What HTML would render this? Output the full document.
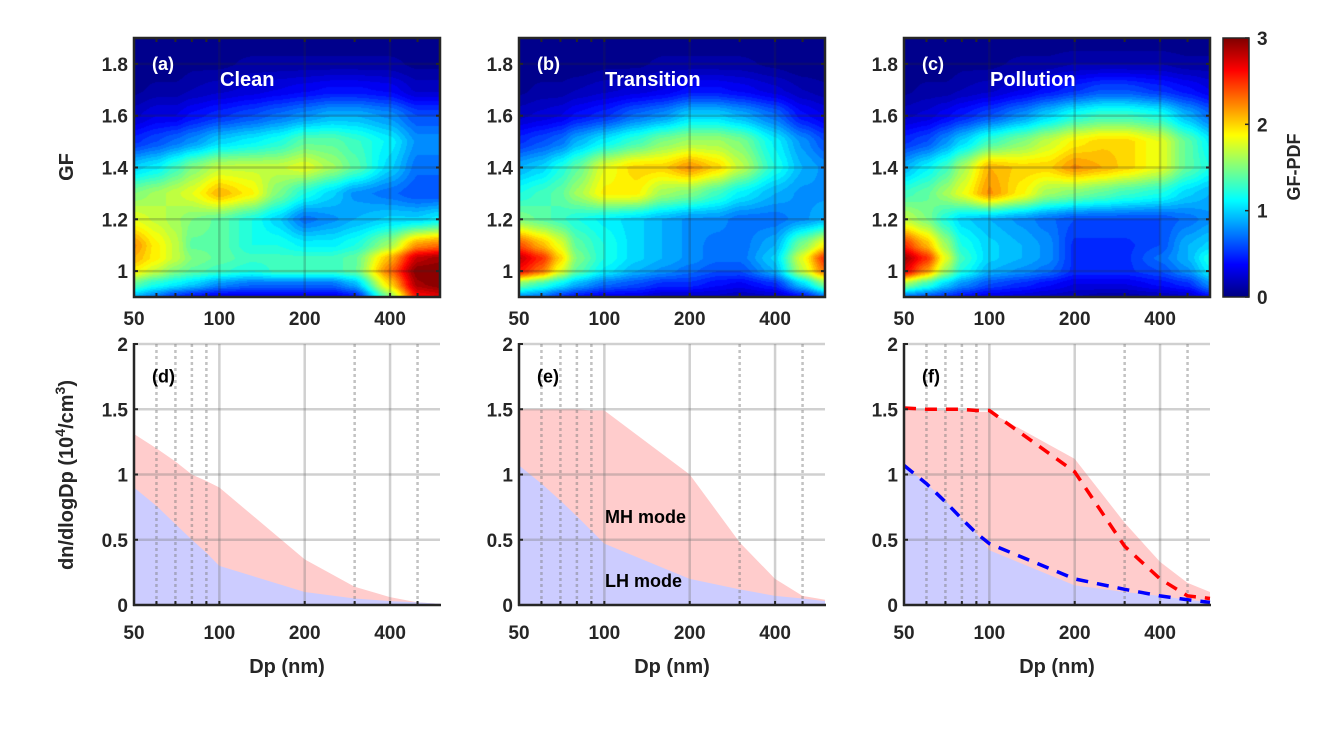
<!DOCTYPE html>
<html><head><meta charset="utf-8">
<style>
html,body{margin:0;padding:0;background:#fff;}
#wrap{position:relative;width:1344px;height:756px;overflow:hidden;font-family:"Liberation Sans",Arial,sans-serif;}
canvas{position:absolute;}
svg{position:absolute;left:0;top:0;}
text{font-family:"Liberation Sans",Arial,sans-serif;font-weight:bold;}
</style></head>
<body>
<div id="wrap">
<canvas id="ca" width="306" height="259" style="left:134px;top:38px"></canvas>
<canvas id="cb" width="306" height="259" style="left:519px;top:38px"></canvas>
<canvas id="cc" width="306" height="259" style="left:904px;top:38px"></canvas>
<canvas id="cbar" width="26" height="259" style="left:1223px;top:38px"></canvas>
<svg id="svg" width="1344" height="756" xmlns="http://www.w3.org/2000/svg"></svg>
</div>
<script>
// ---- data ----
const dpNodes = [50,60,70,80,100,130,160,200,250,300,400,500,600];
const gfNodes = [0.9,0.95,1.0,1.05,1.1,1.2,1.3,1.4,1.5,1.6,1.7,1.8,1.9];
const pdfClean = [
[0.9,0.7,0.5,0.4,0.3,0.3,0.3,0.3,0.3,0.4,1.5,2.6,2.7],
[1.4,1.2,1.1,1.0,0.8,0.7,0.7,0.7,0.7,0.9,2.0,2.9,3.0],
[1.9,1.7,1.5,1.4,1.3,1.2,1.3,1.3,1.3,1.4,2.3,3.0,3.0],
[2.1,1.9,1.7,1.5,1.4,1.3,1.3,1.3,1.3,1.4,2.1,2.8,2.9],
[2.2,1.9,1.7,1.4,1.4,1.2,1.2,1.1,1.1,1.2,1.6,2.2,2.3],
[1.8,1.7,1.6,1.5,1.4,1.2,1.0,0.7,0.8,0.9,1.0,1.0,1.1],
[1.5,1.6,1.7,1.8,2.1,1.9,1.5,1.2,1.0,0.8,0.7,0.6,0.6],
[1.0,1.1,1.3,1.5,1.7,1.7,1.7,1.8,1.6,1.4,1.0,0.7,0.7],
[0.5,0.6,0.7,0.8,1.0,1.1,1.2,1.4,1.4,1.3,1.1,0.8,0.8],
[0.2,0.3,0.3,0.4,0.5,0.6,0.7,0.8,0.9,0.9,0.8,0.6,0.6],
[0.05,0.1,0.1,0.15,0.2,0.25,0.3,0.35,0.4,0.4,0.35,0.2,0.2],
[0,0,0,0.05,0.05,0.1,0.1,0.1,0.1,0.1,0.1,0.05,0.05],
[0,0,0,0,0,0,0,0,0,0,0,0,0]];
const pdfTransition = [
[0.8,0.7,0.5,0.4,0.3,0.3,0.2,0.2,0.2,0.15,0.2,0.4,0.7],
[1.5,1.3,1.1,0.9,0.7,0.6,0.5,0.5,0.4,0.35,0.5,1.0,1.5],
[2.6,2.3,1.8,1.4,1.1,0.9,0.8,0.7,0.6,0.6,0.9,1.7,2.3],
[2.8,2.5,2.0,1.5,1.2,1.0,0.9,0.8,0.7,0.7,1.0,1.8,2.5],
[2.4,2.1,1.8,1.4,1.2,1.0,0.9,0.8,0.7,0.7,0.9,1.5,1.9],
[1.5,1.4,1.3,1.2,1.1,1.0,0.9,0.8,0.8,0.7,0.7,0.8,0.9],
[1.2,1.3,1.4,1.6,1.9,1.9,1.6,1.5,1.3,1.1,0.9,0.8,0.8],
[0.9,1.0,1.2,1.4,1.8,2.0,2.0,2.2,2.0,1.7,1.2,0.9,0.8],
[0.5,0.6,0.7,0.9,1.1,1.3,1.5,1.6,1.6,1.5,1.1,0.8,0.6],
[0.2,0.25,0.3,0.4,0.5,0.7,0.8,1.0,1.0,0.9,0.7,0.4,0.3],
[0.05,0.1,0.1,0.15,0.2,0.25,0.3,0.4,0.4,0.35,0.25,0.15,0.1],
[0,0,0,0,0.05,0.05,0.1,0.1,0.1,0.1,0.05,0,0],
[0,0,0,0,0,0,0,0,0,0,0,0,0]];
const pdfPollution = [
[0.7,0.6,0.5,0.4,0.3,0.25,0.2,0.15,0.1,0.1,0.15,0.2,0.4],
[1.6,1.3,1.0,0.8,0.6,0.5,0.4,0.3,0.3,0.3,0.4,0.5,0.8],
[2.7,2.2,1.6,1.2,0.9,0.8,0.7,0.5,0.5,0.5,0.6,0.8,1.1],
[2.9,2.5,1.8,1.3,1.0,0.9,0.8,0.5,0.5,0.5,0.7,0.9,1.2],
[2.5,2.1,1.6,1.2,1.0,0.9,0.8,0.5,0.5,0.5,0.6,0.9,1.0],
[1.7,1.5,1.2,1.0,0.9,0.8,0.7,0.6,0.6,0.6,0.6,0.7,0.8],
[1.3,1.4,1.6,1.8,2.2,1.9,1.6,1.5,1.4,1.3,1.2,1.0,0.9],
[0.9,1.1,1.3,1.6,2.1,2.0,2.0,2.2,2.1,2.0,1.8,1.4,1.2],
[0.5,0.6,0.8,1.0,1.3,1.5,1.7,1.9,2.0,2.0,1.8,1.4,1.1],
[0.2,0.25,0.35,0.45,0.6,0.8,1.0,1.2,1.3,1.3,1.2,0.9,0.7],
[0.05,0.1,0.1,0.15,0.2,0.3,0.4,0.5,0.6,0.6,0.5,0.4,0.3],
[0,0,0,0.05,0.05,0.1,0.1,0.15,0.15,0.15,0.15,0.1,0.1],
[0,0,0,0,0,0,0,0,0,0,0,0,0]];

const dpDist = [50,60,70,80,90,100,200,300,400,500,600];
const totalClean = [1.31,1.2,1.1,1.0,0.95,0.9,0.35,0.14,0.06,0.02,0.01];
const lhClean    = [0.9,0.76,0.62,0.5,0.4,0.3,0.1,0.05,0.03,0.02,0.01];
const totalTrans = [1.5,1.5,1.5,1.5,1.49,1.49,1.0,0.48,0.2,0.07,0.04];
const lhTrans    = [1.07,0.93,0.8,0.68,0.57,0.47,0.2,0.12,0.07,0.05,0.03];
const totalPoll  = [1.5,1.5,1.49,1.49,1.48,1.48,1.12,0.63,0.33,0.17,0.1];
const lhPoll     = [1.07,0.93,0.8,0.66,0.55,0.42,0.15,0.1,0.07,0.04,0.02];
const mhRefLine  = [1.51,1.5,1.5,1.5,1.49,1.49,1.02,0.45,0.2,0.07,0.05];
const lhRefLine  = [1.07,0.93,0.79,0.66,0.55,0.47,0.2,0.12,0.07,0.04,0.02];

const xTicks = [50,100,200,400];
const xMinor = [60,70,80,90,300,500];
const gfTicks = [1,1.2,1.4,1.6,1.8];
const gfTickLabels = ['1','1.2','1.4','1.6','1.8'];
const nTicks = [0,0.5,1,1.5,2];
const nTickLabels = ['0','0.5','1','1.5','2'];
const cbTicks = [0,1,2,3];

// ---- geometry / scales ----
const panelX = [134,519,904], PW = 306;
const hTop = 38, hBot = 297, bTop = 344, bBot = 605;
const xs = (x0,dp)=> x0 + PW*Math.log(dp/50)/Math.log(12);
const ysGF = gf => hBot - (gf-0.9)/1.0*(hBot-hTop);
const ysN = v => bBot - v/2*(bBot-bTop);

function jet(t){
  t=Math.max(0,Math.min(1,t));
  const c=v=>Math.round(255*Math.max(0,Math.min(1,v)));
  return [c(1.5-Math.abs(4*t-3)), c(1.5-Math.abs(4*t-2)), c(1.5-Math.abs(4*t-1))];
}
function interp(grid,dp,gf){
  let i=0; while(i<dpNodes.length-2 && dp>dpNodes[i+1]) i++;
  let j=0; while(j<gfNodes.length-2 && gf>gfNodes[j+1]) j++;
  let tx=(Math.log(dp)-Math.log(dpNodes[i]))/(Math.log(dpNodes[i+1])-Math.log(dpNodes[i]));
  let ty=(gf-gfNodes[j])/(gfNodes[j+1]-gfNodes[j]);
  tx=Math.max(0,Math.min(1,tx)); ty=Math.max(0,Math.min(1,ty));
  tx=tx*tx*(3-2*tx)*0.5+tx*0.5; ty=ty*ty*(3-2*ty)*0.5+ty*0.5;
  const a=grid[j][i],b=grid[j][i+1],c=grid[j+1][i],d=grid[j+1][i+1];
  return (a*(1-tx)+b*tx)*(1-ty)+(c*(1-tx)+d*tx)*ty;
}
function drawHeat(id,grid){
  const cv=document.getElementById(id),ctx=cv.getContext('2d');
  const img=ctx.createImageData(cv.width,cv.height);
  for(let py=0;py<cv.height;py++){
    const gf=1.9-(py+0.5)/cv.height*1.0;
    for(let px=0;px<cv.width;px++){
      const dp=50*Math.pow(12,(px+0.5)/cv.width);
      let v=interp(grid,dp,gf);
      v=(Math.floor(v/0.075)+0.5)*0.075;
      const col=jet(v/3); const k=(py*cv.width+px)*4;
      img.data[k]=col[0];img.data[k+1]=col[1];img.data[k+2]=col[2];img.data[k+3]=255;
    }
  }
  ctx.putImageData(img,0,0);
}
drawHeat('ca',pdfClean);drawHeat('cb',pdfTransition);drawHeat('cc',pdfPollution);
(function(){const cv=document.getElementById('cbar'),ctx=cv.getContext('2d');
 for(let py=0;py<cv.height;py++){const c=jet(1-(py+0.5)/cv.height);ctx.fillStyle=`rgb(${c[0]},${c[1]},${c[2]})`;ctx.fillRect(0,py,cv.width,1);}})();

// ---- SVG ----
const svg=document.getElementById('svg');const NS='http://www.w3.org/2000/svg';
function el(tag,attrs,parent){const e=document.createElementNS(NS,tag);for(const k in attrs)e.setAttribute(k,attrs[k]);(parent||svg).appendChild(e);return e;}
function txt(s,x,y,size,anchor,fill,extra){const t=el('text',Object.assign({x:x,y:y,'font-size':size,'text-anchor':anchor||'middle',fill:fill||'#262626'},extra||{}));t.textContent=s;return t;}

const titles=['Clean','Transition','Pollution'], lettersTop=['(a)','(b)','(c)'], lettersBot=['(d)','(e)','(f)'];
panelX.forEach((x0,p)=>{
  const g=el('g',{});
  
  
  xTicks.slice(1).forEach(d=>{const l=el('line',{x1:xs(x0,d),x2:xs(x0,d),y1:hTop,y2:hBot,stroke:'rgba(40,40,40,0.22)','stroke-width':2.5},g);});
  gfTicks.forEach(v=>{const l=el('line',{x1:x0,x2:x0+PW,y1:ysGF(v),y2:ysGF(v),stroke:'rgba(40,40,40,0.22)','stroke-width':2.5},g);});
  xTicks.concat(xMinor).forEach(d=>{const X=xs(x0,d);el('line',{x1:X,x2:X,y1:hBot,y2:hBot-4,stroke:'#262626','stroke-width':2},g);el('line',{x1:X,x2:X,y1:hTop,y2:hTop+4,stroke:'#262626','stroke-width':2},g);});
  gfTicks.forEach(v=>{const Y=ysGF(v);el('line',{x1:x0,x2:x0+4,y1:Y,y2:Y,stroke:'#262626','stroke-width':2},g);el('line',{x1:x0+PW-4,x2:x0+PW,y1:Y,y2:Y,stroke:'#262626','stroke-width':2},g);});
  const fr=el('rect',{x:x0,y:hTop,width:PW,height:hBot-hTop,fill:'none',stroke:'#262626','stroke-width':2.5},g);
  
  xTicks.forEach(d=>{const t=txt(String(d),xs(x0,d),325,19);});
  gfTicks.forEach((v,i)=>{const t=txt(gfTickLabels[i],x0-6,ysGF(v)+7,19,'end');});
  let t=txt(lettersTop[p],x0+18,ysGF(1.8)+6,18,'start','#fff');
  t=txt(titles[p],x0+86,86,20,'start','#fff');

  const b=el('g',{});
  
  
  const tot=[totalClean,totalTrans,totalPoll][p], lh=[lhClean,lhTrans,lhPoll][p];
  const poly=(arr)=>dpDist.map((d,i)=>xs(x0,d)+','+ysN(arr[i])).join(' ')+' '+xs(x0,600)+','+ysN(0)+' '+x0+','+ysN(0);
  let a=el('polygon',{points:poly(tot),fill:'#ffcccc'},b);
  a=el('polygon',{points:poly(lh),fill:'#ccccff'},b);
  el('line',{x1:x0,x2:x0,y1:ysN(lh[0]),y2:ysN(tot[0]),stroke:'#cc2222','stroke-width':2},b);
  xTicks.slice(1).forEach(d=>{const l=el('line',{x1:xs(x0,d),x2:xs(x0,d),y1:bTop,y2:bBot,stroke:'rgba(120,120,120,0.35)','stroke-width':2.5},b);});
  xMinor.forEach(d=>{const l=el('line',{x1:xs(x0,d),x2:xs(x0,d),y1:bTop,y2:bBot,stroke:'rgba(120,120,120,0.45)','stroke-width':2.5,'stroke-dasharray':'3,3'},b);});
  nTicks.slice(1).forEach(v=>{const l=el('line',{x1:x0,x2:x0+PW,y1:ysN(v),y2:ysN(v),stroke:'rgba(120,120,120,0.35)','stroke-width':2.5},b);});
  if(p===2){
    const pl=(arr)=>dpDist.map((d,i)=>xs(x0,d)+','+ysN(arr[i])).join(' ');
    let l=el('polyline',{points:pl(mhRefLine),fill:'none',stroke:'#ff0000','stroke-width':3.5,'stroke-dasharray':'12,9'},b);
    l=el('polyline',{points:pl(lhRefLine),fill:'none',stroke:'#0000ff','stroke-width':3.5,'stroke-dasharray':'12,9'},b);
  }
  xTicks.concat(xMinor).forEach(d=>{const X=xs(x0,d);el('line',{x1:X,x2:X,y1:bBot,y2:bBot-4,stroke:'#262626','stroke-width':2},b);});
  nTicks.forEach(v=>{const Y=ysN(v);el('line',{x1:x0,x2:x0+4,y1:Y,y2:Y,stroke:'#262626','stroke-width':2},b);});
  el('line',{x1:x0,x2:x0,y1:bTop-1,y2:bBot+1,stroke:'#262626','stroke-width':2.5},b);
  el('line',{x1:x0-1,x2:x0+PW+1,y1:bBot,y2:bBot,stroke:'#262626','stroke-width':2.5},b);
  xTicks.forEach(d=>{const t=txt(String(d),xs(x0,d),639,19);});
  nTicks.forEach((v,i)=>{const t=txt(nTickLabels[i],x0-6,ysN(v)+7,19,'end');});
  t=txt(lettersBot[p],x0+18,ysN(1.75)+6,18,'start','#000');
  t=txt('Dp (nm)',x0+PW/2,673,20);
});
let t=txt('MH mode',605,523,18,'start','#000');
t=txt('LH mode',605,587,18,'start','#000');
t=txt('GF',0,0,20,'middle','#262626',{transform:'translate(73,167) rotate(-90)'});
t=el('text',{'font-size':20,'text-anchor':'middle',fill:'#262626',transform:'translate(73,475) rotate(-90)'});

t.innerHTML='dn/dlogDp (10<tspan dy="-8" font-size="14">4</tspan><tspan dy="8">/cm</tspan><tspan dy="-8" font-size="14">3</tspan><tspan dy="8">)</tspan>';
el('rect',{x:1223,y:38,width:26,height:259,fill:'none',stroke:'#262626','stroke-width':1.5});
cbTicks.forEach(v=>{const Y=297-v/3*259;el('line',{x1:1245,x2:1249,y1:Y,y2:Y,stroke:'#262626','stroke-width':1.5});
  const l=txt(String(v),1257,Y+7,19,'start');});
t=txt('GF-PDF',0,0,18,'middle','#262626',{transform:'translate(1300,167) rotate(-90)'});
</script>
</body></html>
